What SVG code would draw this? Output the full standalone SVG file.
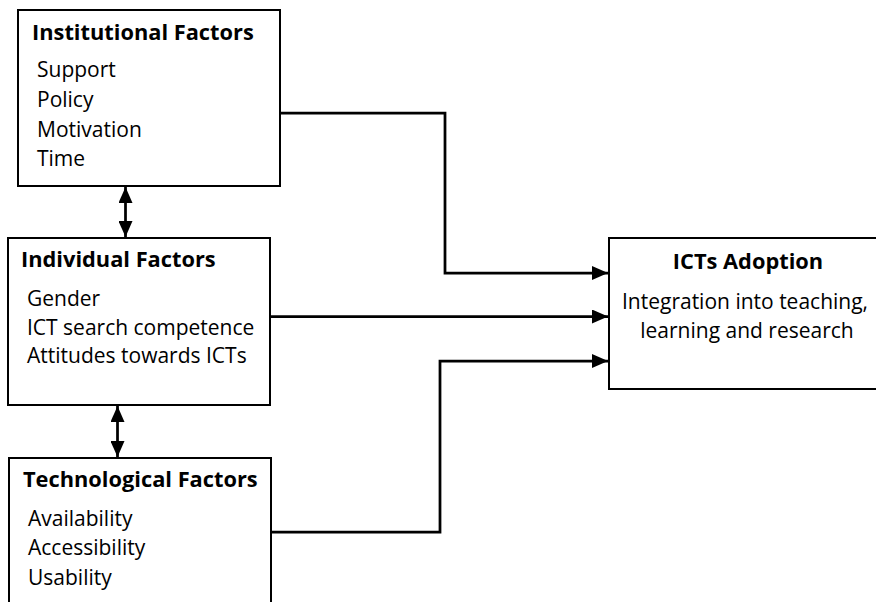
<svg xmlns="http://www.w3.org/2000/svg" width="876" height="602" viewBox="0 0 876 602">
<style>
.box{fill:#fff;stroke:#000;stroke-width:2}
.t{font-family:"Open Sans","Liberation Sans",sans-serif;font-size:21px;fill:#000}
.b{font-weight:bold;font-size:21.8px}
.c{fill:none;stroke:#000;stroke-width:2.75}
</style>
<defs>
<marker id="ah" viewBox="0 0 16 14" refX="16" refY="7" markerWidth="16" markerHeight="14" markerUnits="userSpaceOnUse" orient="auto-start-reverse">
<path d="M0,0 L16,7 L0,14 Z" fill="#000"/>
</marker>
</defs>
<rect width="876" height="602" fill="#fff"/>
<g id="institutional">
<rect class="box" x="18" y="10" width="262" height="176"/>
<text class="t b" x="32" y="40">Institutional Factors</text>
<text class="t" x="37" y="77">Support</text>
<text class="t" x="37" y="107">Policy</text>
<text class="t" x="37" y="137">Motivation</text>
<text class="t" x="37" y="166">Time</text>
</g>
<g id="individual">
<rect class="box" x="8" y="238" width="262" height="167"/>
<text class="t b" x="21" y="267">Individual Factors</text>
<text class="t" x="27" y="306">Gender</text>
<text class="t" x="27" y="335">ICT search competence</text>
<text class="t" x="27" y="363">Attitudes towards ICTs</text>
</g>
<g id="technological">
<rect class="box" x="9" y="458" width="262" height="160"/>
<text class="t b" x="23" y="487">Technological Factors</text>
<text class="t" x="28" y="526">Availability</text>
<text class="t" x="28" y="555">Accessibility</text>
<text class="t" x="28" y="585">Usability</text>
</g>
<g id="adoption">
<rect class="box" x="609" y="238" width="280" height="151"/>
<text class="t b" x="748" y="269" text-anchor="middle">ICTs Adoption</text>
<text class="t" x="745" y="309" text-anchor="middle">Integration into teaching,</text>
<text class="t" x="747" y="338" text-anchor="middle">learning and research</text>
</g>
<g id="connectors">
<path class="c" d="M280,113 H445 V273 H608" marker-end="url(#ah)"/>
<path class="c" d="M270,316.5 H608" marker-end="url(#ah)"/>
<path class="c" d="M271,532 H440 V361 H608" marker-end="url(#ah)"/>
<path class="c" d="M125.5,187 V237" marker-start="url(#ah)" marker-end="url(#ah)"/>
<path class="c" d="M117.5,406 V457" marker-start="url(#ah)" marker-end="url(#ah)"/>
</g>
</svg>
